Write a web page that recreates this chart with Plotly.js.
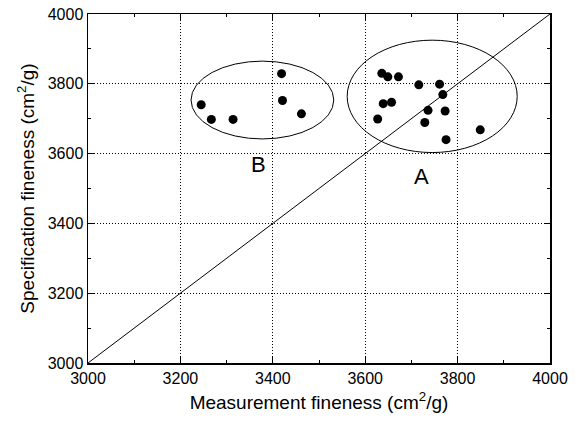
<!DOCTYPE html>
<html><head><meta charset="utf-8">
<script src="https://cdn.plot.ly/plotly-3.0.1.min.js"></script>
<style>html,body{margin:0;padding:0;background:#fff;}#chart{width:585px;height:426px;}</style>
</head><body><div id="chart"></div>
<script>
// Group B points
const bMeas = [3245, 3267, 3314, 3419, 3421, 3462];
const bSpec = [3740, 3698, 3698, 3829, 3752, 3714];
// Group A points
const aMeas = [3636, 3649, 3672, 3716, 3761, 3768, 3639, 3657, 3627, 3736, 3773, 3729, 3849, 3775];
const aSpec = [3830, 3820, 3820, 3797, 3799, 3769, 3743, 3747, 3699, 3724, 3722, 3689, 3668, 3640];
// 1:1 line
const lineX = [3000, 4000];
const lineY = [3000, 4000];
// group ellipses [x0, x1, y0, y1] and labels
const ellipseB = [3223, 3532, 3642, 3865];
const ellipseA = [3561, 3929, 3603, 3925];
const groupLabels = ['B', 'A'];
const labelX = [3368, 3721];
const labelY = [3570, 3533];
const tickVals = [3000, 3200, 3400, 3600, 3800, 4000];

const font = {family: 'Arial, "Liberation Sans", sans-serif', color: '#000'};
const traces = [
  {x: lineX, y: lineY, mode: 'lines', line: {color: '#000', width: 1}, hoverinfo: 'skip', showlegend: false},
  {x: bMeas.concat(aMeas), y: bSpec.concat(aSpec), mode: 'markers', marker: {color: '#000', size: 9}, showlegend: false}
];
const axisBase = {
  range: [3000, 4000], tickvals: tickVals, ticks: 'inside', ticklen: 6, tickwidth: 1, tickcolor: '#000',
  showline: true, linecolor: '#000', linewidth: 1.5, mirror: 'ticks',
  showgrid: true, gridcolor: '#000', gridwidth: 1, griddash: '1px,2px', zeroline: false,
  minor: {dtick: 100, ticks: 'inside', ticklen: 3, tickcolor: '#000', showgrid: false},
  tickfont: Object.assign({size: 16}, font)
};
const layout = {
  width: 585, height: 426,
  margin: {l: 88, r: 35, t: 14, b: 63},
  paper_bgcolor: '#fff', plot_bgcolor: '#fff',
  xaxis: Object.assign({}, axisBase, {title: {text: 'Measurement fineness (cm<sup>2</sup>/g)', font: Object.assign({size: 19}, font), standoff: 10}}),
  yaxis: Object.assign({}, axisBase, {title: {text: 'Specification fineness (cm<sup>2</sup>/g)', font: Object.assign({size: 19}, font), standoff: 8}}),
  shapes: [ellipseB, ellipseA].map(e => ({type: 'circle', xref: 'x', yref: 'y', x0: e[0], x1: e[1], y0: e[2], y1: e[3], line: {color: '#000', width: 1}})),
  annotations: groupLabels.map((t, i) => ({x: labelX[i], y: labelY[i], xref: 'x', yref: 'y', text: t, showarrow: false, font: Object.assign({size: 22}, font)}))
};
Plotly.newPlot('chart', traces, layout, {displayModeBar: false, staticPlot: true});
</script></body></html>
